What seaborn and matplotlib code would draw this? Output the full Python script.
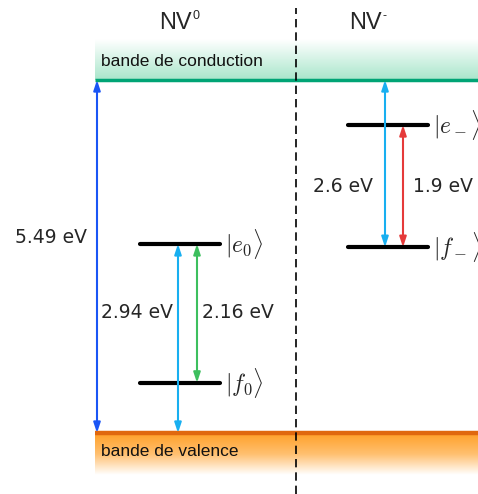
import numpy as np
import pandas as pd
import matplotlib
matplotlib.use("Agg")
import matplotlib.pyplot as plt
import seaborn as sns

# Energy levels (eV above valence band top)
gap = 5.49
level_names = [r"$|f_0\rangle$", r"$|e_0\rangle$", r"$|f_-\rangle$", r"$|e_-\rangle$"]
level_energy = [0.78, 2.94, 2.89, 4.79]
level_center = ["NV0", "NV0", "NV-", "NV-"]

# Transitions: (x position, bottom, top, label, colour)
trans_x = [97, 178, 197, 385, 403]
trans_lo = [0.0, 0.0, 0.78, 2.89, 2.89]
trans_hi = [5.49, 2.94, 2.94, 5.49, 4.79]
trans_label = ["5.49 eV", "2.94 eV", "2.16 eV", "2.6 eV", "1.9 eV"]
trans_color = ["#1a55f5", "#18aff0", "#3dbf5e", "#18aff0", "#e53a3a"]

sns.set_style("white")
plt.rcParams["font.family"] = ["Liberation Sans", "DejaVu Sans"]
plt.rcParams["mathtext.fontset"] = "cm"

fig = plt.figure(figsize=(4.78, 4.94), dpi=100)
ax = fig.add_axes([0, 0, 1, 1])
px = 64.3  # pixels per eV
ax.set_xlim(0, 478)
ax.set_ylim(-61 / px, 433 / px)
ax.axis("off")

# bands with gradients
cmap_g = matplotlib.colors.LinearSegmentedColormap.from_list("g", ["#ffffff", "#a9e6cb"])
ax.imshow(np.linspace(0, 1, 100).reshape(-1, 1), cmap=cmap_g, extent=[95, 478, gap + 0.63, gap],
          aspect="auto", origin="lower")
cmap_o = matplotlib.colors.LinearSegmentedColormap.from_list("o", ["#ffffff", "#ffc070", "#ffa028"])
ax.imshow(np.linspace(0, 1, 100).reshape(-1, 1), cmap=cmap_o, extent=[95, 478, -0.65, 0],
          aspect="auto", origin="lower")
ax.hlines(gap, 95, 478, color="#00a475", lw=2.5)
ax.hlines(0, 95, 478, color="#e0680e", lw=3.2)
ax.text(101, gap + 0.28, "bande de conduction", fontsize=12.5, va="center", color="#111111")
ax.text(101, -0.29, "bande de valence", fontsize=12.5, va="center", color="#111111")

# separator
ax.axvline(296, ymin=0, ymax=(494 - 8) / 494, color="black", lw=1.2, ls=(0, (5, 3)))
ty = (433 - 23) / px
ax.text(159, ty, "NV", fontsize=17, ha="left", va="center")
ax.text(193, (433 - 16) / px, "0", fontsize=9, ha="left", va="center")
ax.text(349, ty, "NV", fontsize=17, ha="left", va="center")
ax.text(383, (433 - 16) / px, "-", fontsize=9, ha="left", va="center")

# levels
levels = pd.DataFrame({"name": level_names, "E": level_energy, "center": level_center})
for _, row in levels.iterrows():
    x0 = 140 if row["center"] == "NV0" else 348
    sns.lineplot(x=[x0, x0 + 80], y=[row["E"], row["E"]], color="black", lw=3, ax=ax)
    ax.text(x0 + 85, row["E"], row["name"], fontsize=17, va="center", ha="left")

# transitions
label_pos = [(87, "right", 3.04), (101, "left", 1.87), (202, "left", 1.87),
             (313, "left", 3.84), (413, "left", 3.84)]
for x, lo, hi, lab, c, (lx, ha, ly) in zip(trans_x, trans_lo, trans_hi, trans_label,
                                           trans_color, label_pos):
    ax.annotate("", xy=(x, hi), xytext=(x, lo),
                arrowprops=dict(arrowstyle="<|-|>,head_length=0.6,head_width=0.2", color=c,
                                lw=1.5, shrinkA=0, shrinkB=0))
    ax.text(lx, ly, lab, fontsize=13.5, ha=ha, va="center", family="DejaVu Sans")

fig.savefig("out.png", dpi=100)
